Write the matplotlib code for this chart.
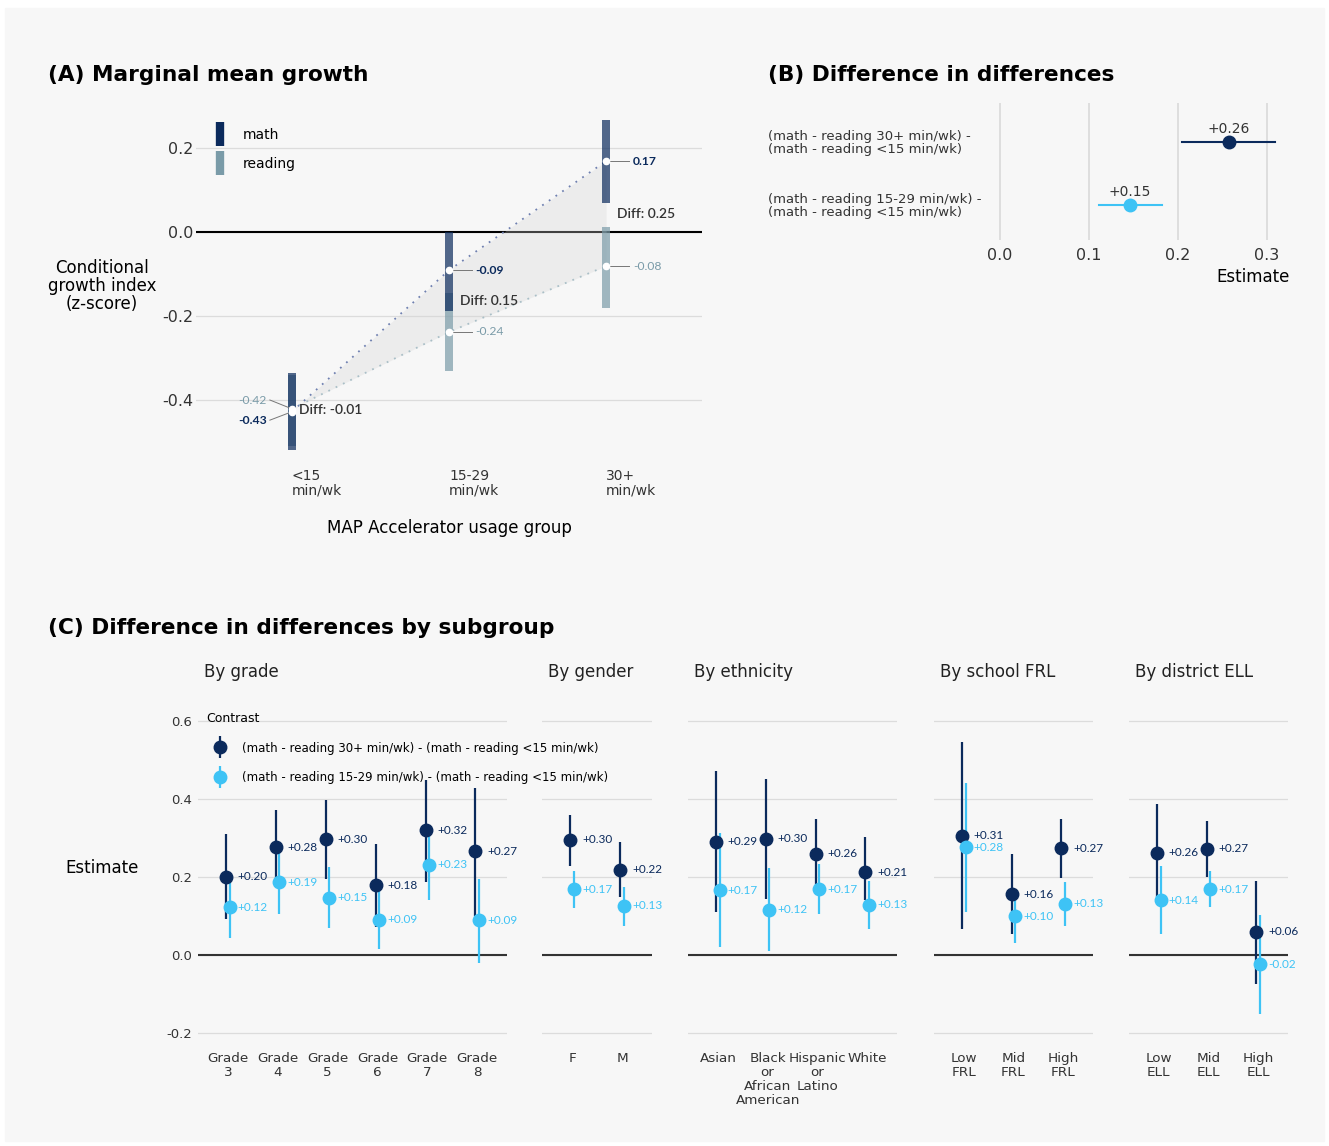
import numpy as np
import matplotlib
matplotlib.use('Agg')
import matplotlib.pyplot as plt
from matplotlib.lines import Line2D
from matplotlib.patches import Rectangle
from matplotlib.legend_handler import HandlerTuple

plt.rcParams['axes.unicode_minus'] = False
plt.rcParams['font.family'] = ['DejaVu Sans']

W, H = 1329, 1146
BG = '#f7f7f7'
GRID = '#dcdcdc'
TXT = '#333333'
NAVY = '#0b2a5c'
SKY = '#3ec3f5'
MATH_C = '#0b2a5c'
READ_C = '#7a9ba8'
LABEL_FONT = ['Lato', 'DejaVu Sans']

# ---- panel A: marginal mean growth
usage_groups = ['<15\nmin/wk', '15-29\nmin/wk', '30+\nmin/wk']
math_est = [-0.428, -0.091, 0.169]
math_lo = [-0.519, -0.188, 0.070]
math_hi = [-0.335, 0.000, 0.267]
read_est = [-0.421, -0.238, -0.081]
read_lo = [-0.510, -0.331, -0.180]
read_hi = [-0.340, -0.145, 0.013]

# ---- panel B: difference in differences
contrasts = ['(math - reading 15-29 min/wk) -\n(math - reading <15 min/wk)',
             '(math - reading 30+ min/wk) -\n(math - reading <15 min/wk)']
contrast_est = [0.146, 0.257]
contrast_lo = [0.111, 0.204]
contrast_hi = [0.182, 0.309]

# ---- panel C: by subgroup (c30 = 30+ contrast, c15 = 15-29 contrast)
grade_cats = ['Grade\n3', 'Grade\n4', 'Grade\n5', 'Grade\n6', 'Grade\n7', 'Grade\n8']
grade_c30_est = [0.200, 0.276, 0.297, 0.179, 0.320, 0.266]
grade_c30_lo = [0.092, 0.197, 0.195, 0.071, 0.187, 0.100]
grade_c30_hi = [0.310, 0.373, 0.397, 0.285, 0.450, 0.428]
grade_c15_est = [0.122, 0.186, 0.147, 0.090, 0.231, 0.089]
grade_c15_lo = [0.043, 0.106, 0.068, 0.015, 0.141, -0.020]
grade_c15_hi = [0.192, 0.265, 0.226, 0.164, 0.310, 0.196]

gender_cats = ['F', 'M']
gender_c30_est = [0.296, 0.219]
gender_c30_lo = [0.229, 0.149]
gender_c30_hi = [0.360, 0.289]
gender_c15_est = [0.168, 0.126]
gender_c15_lo = [0.120, 0.075]
gender_c15_hi = [0.215, 0.175]

eth_cats = ['Asian', 'Black\nor\nAfrican\nAmerican', 'Hispanic\nor\nLatino', 'White']
eth_c30_est = [0.291, 0.298, 0.259, 0.212]
eth_c30_lo = [0.109, 0.144, 0.168, 0.141]
eth_c30_hi = [0.472, 0.452, 0.350, 0.302]
eth_c15_est = [0.166, 0.116, 0.168, 0.129]
eth_c15_lo = [0.020, 0.009, 0.104, 0.067]
eth_c15_hi = [0.312, 0.222, 0.233, 0.190]

frl_cats = ['Low\nFRL', 'Mid\nFRL', 'High\nFRL']
frl_c30_est = [0.306, 0.156, 0.274]
frl_c30_lo = [0.066, 0.053, 0.197]
frl_c30_hi = [0.546, 0.259, 0.349]
frl_c15_est = [0.276, 0.100, 0.131]
frl_c15_lo = [0.110, 0.030, 0.075]
frl_c15_hi = [0.441, 0.170, 0.186]

ell_cats = ['Low\nELL', 'Mid\nELL', 'High\nELL']
ell_c30_est = [0.262, 0.273, 0.059]
ell_c30_lo = [0.150, 0.201, -0.074]
ell_c30_hi = [0.386, 0.344, 0.191]
ell_c15_est = [0.141, 0.169, -0.024]
ell_c15_lo = [0.054, 0.123, -0.150]
ell_c15_hi = [0.229, 0.215, 0.102]

legend_c30 = '(math - reading 30+ min/wk) - (math - reading <15 min/wk)'
legend_c15 = '(math - reading 15-29 min/wk) - (math - reading <15 min/wk)'


def px_axes(fig, l, t, r, b):
    ax = fig.add_axes([l / W, 1 - b / H, (r - l) / W, (b - t) / H])
    ax.patch.set_visible(False)
    for s in ax.spines.values():
        s.set_visible(False)
    ax.tick_params(length=0, colors=TXT)
    return ax


def ftext(fig, x, y, s, **kw):
    return fig.text(x / W, 1 - y / H, s, **kw)


fig = plt.figure(figsize=(W / 100, H / 100), dpi=100, facecolor='white')
fig.patches.append(Rectangle((5 / W, 5 / H), (W - 10) / W, (H - 13) / H,
                             transform=fig.transFigure, color=BG, zorder=-10))

# ================= Panel A
ftext(fig, 48, 75, '(A) Marginal mean growth', fontsize=15.6, fontweight='bold', va='center')
axA = px_axes(fig, 196, 112.3, 702, 456.7)
xA = np.arange(len(usage_groups))
axA.set_xlim(-0.61, 2.61)
axA.set_ylim(-0.535, 0.285)
axA.set_yticks([-0.4, -0.2, 0.0, 0.2])
axA.set_yticklabels(['-0.4', '-0.2', '0.0', '0.2'], fontsize=11.5)
axA.yaxis.grid(True, color=GRID, lw=0.9)
axA.set_axisbelow(True)
axA.axhline(0, color='black', lw=1.5, zorder=1)
axA.tick_params(axis='y', pad=2)
axA.set_xticks(xA)
axA.set_xticklabels(usage_groups, ha='left', fontsize=10, linespacing=1.05)
axA.tick_params(axis='x', pad=9)
axA.set_xlabel('MAP Accelerator usage group', fontsize=12, labelpad=15)

math_est_a = np.array(math_est)
read_est_a = np.array(read_est)
axA.fill_between(xA, math_est_a, read_est_a, color='#d5d5d5', alpha=0.3, lw=0, zorder=1)
axA.plot(xA, math_est_a, ls=(0, (1, 3.5)), color='#6f80b0', lw=1.3, zorder=2)
axA.plot(xA, read_est_a, ls=(0, (1, 3.5)), color='#aabfc7', lw=1.3, zorder=2)
bw = 8 / 157
axA.bar(xA, np.array(read_hi) - np.array(read_lo), bottom=read_lo, width=bw,
        color=READ_C, alpha=0.7, lw=0, zorder=3)
axA.bar(xA, np.array(math_hi) - np.array(math_lo), bottom=math_lo, width=bw,
        color=MATH_C, alpha=0.7, lw=0, zorder=3)
axA.plot(xA, math_est_a, 'o', color='white', ms=4.5, zorder=5)
axA.plot(xA, read_est_a, 'o', color='white', ms=4.5, zorder=5)

for i in range(len(xA)):
    d = math_est[i] - read_est[i]
    dx = 0.045 if i == 0 else 0.068
    axA.text(xA[i] + dx, (math_est[i] + read_est[i]) / 2, 'Diff: %.2f' % d,
             family=LABEL_FONT, fontsize=10, fontweight='semibold', color=TXT,
             va='center', ha='left', zorder=6)
    if i == 0:
        for est, dy, c, fw in [(read_est[i], 0.021, READ_C, 'normal'),
                               (math_est[i], -0.02, MATH_C, 'bold')]:
            ly = est + dy
            axA.plot([xA[i], xA[i] - 0.14], [est, ly], color='#777777', lw=0.7, zorder=4)
            axA.text(xA[i] - 0.16, ly, '%.2f' % est, family=LABEL_FONT, fontsize=8.7,
                     color=c, fontweight=fw, ha='right', va='center')
    else:
        for est, c, fw in [(math_est[i], MATH_C, 'bold'), (read_est[i], READ_C, 'normal')]:
            axA.plot([xA[i], xA[i] + 0.145], [est, est], color='#777777', lw=0.7, zorder=4)
            axA.text(xA[i] + 0.17, est, '%.2f' % est, family=LABEL_FONT, fontsize=8.7,
                     color=c, fontweight=fw, ha='left', va='center')

ftext(fig, 102, 286, 'Conditional\ngrowth index\n(z-score)', fontsize=12, ha='center',
      va='center', linespacing=1.0)
axA.legend(handles=[Line2D([0], [0], color=MATH_C, lw=0, marker='|', ms=17, mew=6),
                    Line2D([0], [0], color=READ_C, lw=0, marker='|', ms=17, mew=6)],
           labels=['math', 'reading'], loc='upper left', frameon=False,
           bbox_to_anchor=(214 / W, 1 - 128 / H), bbox_transform=fig.transFigure,
           borderpad=0, borderaxespad=0, fontsize=10, handlelength=0.8,
           handletextpad=1.3, labelspacing=1.05)

# ================= Panel B
ftext(fig, 768, 75, '(B) Difference in differences', fontsize=15.6, fontweight='bold', va='center')
axB = px_axes(fig, 985, 103, 1290, 240)
axB.set_xlim((985 - 1000) / 890, (1290 - 1000) / 890)
axB.set_ylim(0.444, 2.619)
axB.set_xticks([0.0, 0.1, 0.2, 0.3])
axB.set_xticklabels(['0.0', '0.1', '0.2', '0.3'], fontsize=11.5)
axB.xaxis.grid(True, color=GRID, lw=1.3)
axB.set_axisbelow(True)
axB.tick_params(axis='x', pad=6)
yB = np.arange(1, len(contrasts) + 1)
axB.set_yticks(yB)
axB.set_yticklabels(contrasts, fontsize=9.5, ha='left', linespacing=1.0)
axB.tick_params(axis='y', pad=(985 - 768) * 0.72)
axB.set_xlabel('Estimate', loc='right', fontsize=12, labelpad=3)
colsB = [SKY, NAVY]
for i in range(len(contrasts)):
    axB.plot([contrast_lo[i], contrast_hi[i]], [yB[i], yB[i]], color=colsB[i], lw=1.5)
    axB.plot(contrast_est[i], yB[i], 'o', color=colsB[i], ms=9)
    axB.text(contrast_est[i], yB[i] + 0.2, '%+.2f' % contrast_est[i], fontsize=10,
             color=TXT, ha='center', va='center')

# ================= Panel C
ftext(fig, 48, 628, '(C) Difference in differences by subgroup', fontsize=15.6,
      fontweight='bold', va='center')
facets = [
    ('By grade', 198, 507, grade_cats, grade_c30_est, grade_c30_lo, grade_c30_hi,
     grade_c15_est, grade_c15_lo, grade_c15_hi),
    ('By gender', 542, 652, gender_cats, gender_c30_est, gender_c30_lo, gender_c30_hi,
     gender_c15_est, gender_c15_lo, gender_c15_hi),
    ('By ethnicity', 688, 897, eth_cats, eth_c30_est, eth_c30_lo, eth_c30_hi,
     eth_c15_est, eth_c15_lo, eth_c15_hi),
    ('By school FRL', 934, 1093, frl_cats, frl_c30_est, frl_c30_lo, frl_c30_hi,
     frl_c15_est, frl_c15_lo, frl_c15_hi),
    ('By district ELL', 1129, 1288, ell_cats, ell_c30_est, ell_c30_lo, ell_c30_hi,
     ell_c15_est, ell_c15_lo, ell_c15_hi),
]
dodge = 0.035
for k, (title, l, r, cats, e30, lo30, hi30, e15, lo15, hi15) in enumerate(facets):
    ax = px_axes(fig, l, 705, r, 1045)
    n = len(cats)
    x = np.arange(1, n + 1)
    ax.set_xlim(0.4, n + 0.6)
    ax.set_ylim((955 - 1045) / 390, (955 - 705) / 390)
    ax.set_yticks([-0.2, 0.0, 0.2, 0.4, 0.6])
    ax.yaxis.grid(True, color=GRID, lw=0.9)
    ax.set_axisbelow(True)
    ax.axhline(0, color='#333333', lw=1.5, zorder=1)
    if k == 0:
        ax.set_yticklabels(['-0.2', '0.0', '0.2', '0.4', '0.6'], fontsize=9.5)
        ax.tick_params(axis='y', pad=4)
    else:
        ax.set_yticklabels([])
    ax.set_xticks(x)
    ax.set_xticklabels(cats, fontsize=9.7, linespacing=1.1, va='top')
    ax.tick_params(axis='x', pad=5)
    for xs, e, lo, hi, c in [(x - dodge, e30, lo30, hi30, NAVY),
                             (x + dodge, e15, lo15, hi15, SKY)]:
        ax.vlines(xs, lo, hi, color=c, lw=1.6, zorder=3)
        ax.plot(xs, e, 'o', color=c, ms=9, zorder=4)
        for xi, ei in zip(x, e):
            ax.text(xi + 0.2, ei, '%+.2f' % ei, family=LABEL_FONT, fontsize=8.5,
                    color=c, ha='left', va='center', zorder=5)
    ftext(fig, l + 6, 672, title, fontsize=12, color='#222222', va='center')

ftext(fig, 102, 868, 'Estimate', fontsize=12, ha='center', va='center')

h30 = (Line2D([0], [0], color=NAVY, lw=0, marker='|', ms=16, mew=1.6),
       Line2D([0], [0], color=NAVY, lw=0, marker='o', ms=9))
h15 = (Line2D([0], [0], color=SKY, lw=0, marker='|', ms=16, mew=1.6),
       Line2D([0], [0], color=SKY, lw=0, marker='o', ms=9))
fig.legend(handles=[h30, h15], labels=[legend_c30, legend_c15], title='Contrast',
           handler_map={tuple: HandlerTuple(ndivide=1)}, loc='upper left',
           bbox_to_anchor=(206 / W, 1 - 712 / H), bbox_transform=fig.transFigure,
           frameon=False, borderpad=0, borderaxespad=0, fontsize=8.5, title_fontsize=9,
           alignment='left', handlelength=2.3, handletextpad=0.75, labelspacing=1.4)

fig.savefig('out.png', dpi=100, facecolor='white')
